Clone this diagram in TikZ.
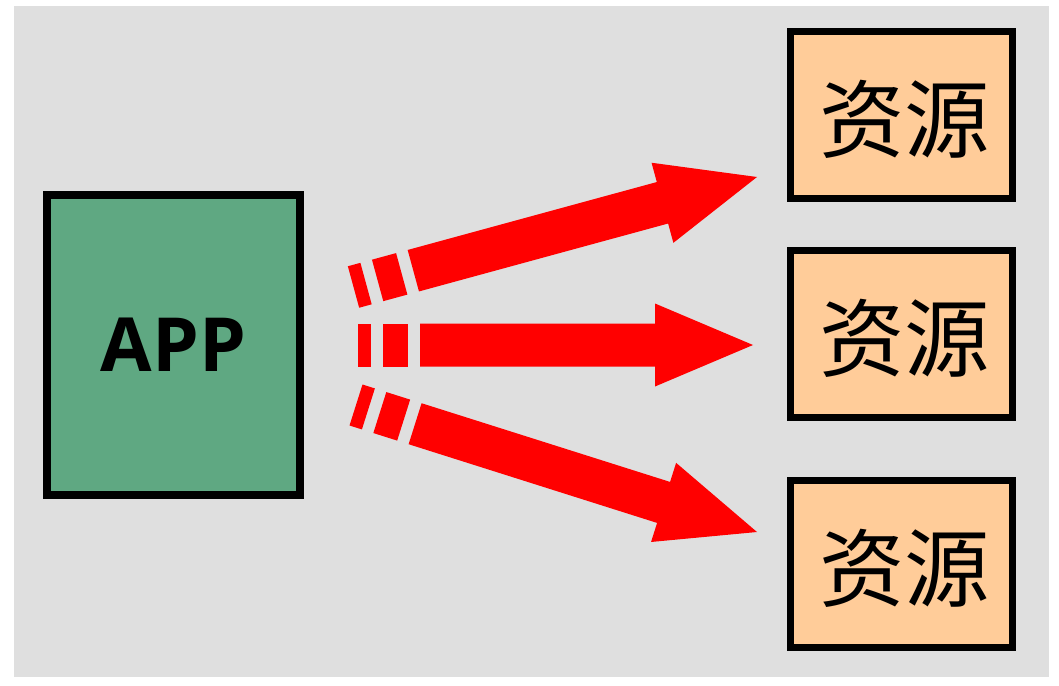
\documentclass[tikz,border=0pt]{standalone}
\usepackage{fontspec}
\usetikzlibrary{calc}
\newfontfamily\appfont{Open Sans}
\newfontfamily\cjk{Noto Sans CJK SC}
\definecolor{bggray}{RGB}{223,223,223}
\definecolor{appgreen}{RGB}{95,168,130}
\definecolor{respeach}{RGB}{255,204,153}
\definecolor{arrowred}{RGB}{255,0,0}
\def\hw{16.125pt}
\def\hh{31.125pt}
\def\hl{73.5pt}
\newcommand\arrseg[4]{%
  \fill[arrowred] ($(#1)!#3!(#2)!\hw!90:(#2)$) -- ($(#1)!#4!(#2)!\hw!90:(#2)$) -- ($(#1)!#4!(#2)!\hw!-90:(#2)$) -- ($(#1)!#3!(#2)!\hw!-90:(#2)$) -- cycle;}
\newcommand\fatarrow[2]{%
  \arrseg{#1}{#2}{0pt}{9.75pt}%
  \arrseg{#1}{#2}{18.75pt}{37.5pt}%
  \fill[arrowred] ($(#1)!46.5pt!(#2)!\hw!90:(#2)$) -- ($(#2)!\hl!(#1)!\hw!90:(#2)$) -- ($(#2)!\hl!(#1)!\hh!90:(#2)$) -- (#2) -- ($(#2)!\hl!(#1)!\hh!-90:(#2)$) -- ($(#2)!\hl!(#1)!\hw!-90:(#2)$) -- ($(#1)!46.5pt!(#2)!\hw!-90:(#2)$) -- cycle;}
\tikzset{
  appbox/.style={draw=black, line width=6pt, fill=appgreen, minimum width=189.75pt, minimum height=225pt, inner sep=0pt, font=\appfont\bfseries\fontsize{56pt}{56pt}\selectfont},
  resbox/.style={draw=black, line width=5.25pt, fill=respeach, minimum width=166.5pt, minimum height=125.25pt, inner sep=0pt},
  restext/.style={font=\cjk\fontsize{64pt}{64pt}\selectfont, inner sep=0pt},
}
\begin{document}
\begin{tikzpicture}[x=0.75pt, y=-0.75pt]
\useasboundingbox (0,0) rectangle (1059,685);
\fill[white] (0,0) rectangle (1059,685);
\fill[bggray] (14,6) rectangle (1049,677);
\node[appbox] (app) at (173.5,345) {APP};
\node[resbox] (r1) at (901.5,115) {};
\node[resbox] (r2) at (901.5,333.5) {};
\node[resbox] (r3) at (901.5,564) {};
\node[restext] (l1) at ([xshift=2.5pt,yshift=-3.5pt]r1.center) {资源};
\node[restext] (l2) at ([xshift=2.5pt,yshift=-3.5pt]r2.center) {资源};
\node[restext] (l3) at ([xshift=2.5pt,yshift=-3.5pt]r3.center) {资源};
\coordinate (s1) at (353.5,287);
\coordinate (t1) at (757,177);
\coordinate (s2) at (358,345);
\coordinate (t2) at (753,345);
\coordinate (s3) at (356,405);
\coordinate (t3) at (757,532);
\fatarrow{s1}{t1}
\fatarrow{s2}{t2}
\fatarrow{s3}{t3}
\end{tikzpicture}
\end{document}
